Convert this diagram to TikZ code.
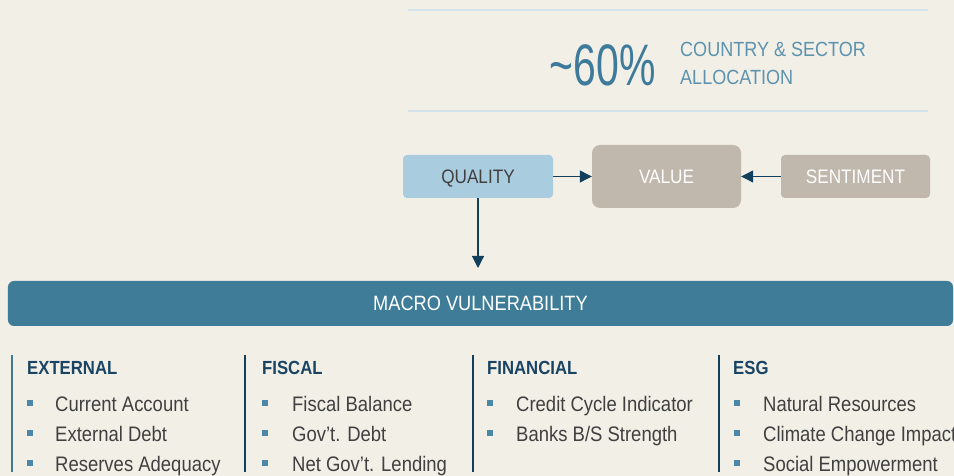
\documentclass[tikz,border=0pt]{standalone}
\usepackage{fontspec}
\setmainfont{Liberation Sans}[FakeStretch=0.88]
\newfontfamily\pctfont{Liberation Sans}[FakeStretch=0.7]
\usetikzlibrary{arrows.meta}

\definecolor{paper}{HTML}{F2EFE7}
\definecolor{rulecol}{HTML}{D4E3EA}
\definecolor{pctblue}{HTML}{3E7B9B}
\definecolor{allocblue}{HTML}{5D93AE}
\definecolor{qualfill}{HTML}{A9CDDF}
\definecolor{taupe}{HTML}{C0B7AD}
\definecolor{arrownavy}{HTML}{123F5C}
\definecolor{macrofill}{HTML}{3E7C98}
\definecolor{headnavy}{HTML}{1A4463}
\definecolor{itemgray}{HTML}{404040}
\definecolor{bulletblue}{HTML}{4A87A8}

\tikzset{
	factor/.style={rounded corners=4bp, minimum width=150bp, minimum height=43bp, inner sep=0pt,
		text height=14bp, text depth=0bp, font=\fontsize{19.5bp}{23bp}\selectfont},
	link/.style={draw=arrownavy, line width=1.1bp, -{Triangle[length=12bp,width=12bp]}},
	colhead/.style={anchor=base west, inner sep=0pt, text=headnavy, font=\bfseries\fontsize{19bp}{23bp}\selectfont},
	item/.style={anchor=base west, inner sep=0pt, text=itemgray, font=\fontsize{21bp}{25bp}\selectfont},
	bullet/.style={fill=bulletblue, minimum size=6bp, inner sep=0pt},
	colrule/.style={draw=arrownavy, line width=1.5bp}
}

\begin{document}
\begin{tikzpicture}[x=1bp, y=-1bp]
	\fill[paper] (0,0) rectangle (954,476);
	\useasboundingbox (0,0) rectangle (954,476);

	% allocation band
	\draw[rulecol, line width=1.2bp] (408,10) -- (928,10);
	\draw[rulecol, line width=1.2bp] (408,111) -- (928,111);
	\node[anchor=base east, inner sep=0pt, text=pctblue] (pct) at (656,86)
		{\pctfont\fontsize{58.5bp}{60bp}\selectfont\textasciitilde60\%};
	\node[anchor=west, inner sep=0pt, align=left, text=allocblue,
		font=\fontsize{20.5bp}{28bp}\selectfont] (alloc) at (680,63)
		{COUNTRY \& SECTOR\\ALLOCATION};

	% factors
	\node[factor, fill=qualfill, text=itemgray] (quality) at (478,176.5) {QUALITY};
	\node[factor, fill=taupe, text=white, minimum width=149bp, minimum height=63bp,
		rounded corners=8bp] (value) at (666.5,176.5) {VALUE};
	\node[factor, fill=taupe, text=white, minimum width=149bp] (sentiment) at (855.5,176.5) {SENTIMENT};
	\coordinate (qdown) at (478,268);
	\draw[link] (quality) -- (value);
	\draw[link] (sentiment) -- (value);
	\draw[link] (quality) -- (qdown);

	\node[fill=macrofill, text=white, rounded corners=6bp, minimum width=945bp, minimum height=45bp,
		inner sep=0pt, font=\fontsize{20.7bp}{24bp}\selectfont] (macro) at (480.5,303.5) {MACRO VULNERABILITY};

	% columns
	\draw[colrule, draw=bulletblue!90!black] (12,355) -- (12,472);
	\draw[colrule] (245,355) -- (245,472);
	\draw[colrule] (473,355) -- (473,472);
	\draw[colrule] (719,355) -- (719,472);

	\node[colhead] (external) at (27,375) {EXTERNAL};
	\node[colhead] (fiscal) at (262,375) {FISCAL};
	\node[colhead] (financial) at (487,375) {FINANCIAL};
	\node[colhead] (esg) at (733,375) {ESG};

	\foreach \bx/\tx/\row/\txt in {
		30/55/0/{Current Account}, 30/55/1/{External Debt}, 30/55/2/{Reserves Adequacy},
		265/292/0/{Fiscal Balance}, 265/292/1/{Gov’t. Debt}, 265/292/2/{Net Gov’t. Lending},
		490/516/0/{Credit Cycle Indicator}, 490/516/1/{Banks B/S Strength},
		737/763/0/{Natural Resources}, 737/763/1/{Climate Change Impact}, 737/763/2/{Social Empowerment}}
	{
		\node[bullet] (b-\bx-\row) at (\bx,403+30*\row) {};
		\node[item] (i-\bx-\row) at (\tx,411+30*\row) {\txt};
	}
\end{tikzpicture}
\end{document}
